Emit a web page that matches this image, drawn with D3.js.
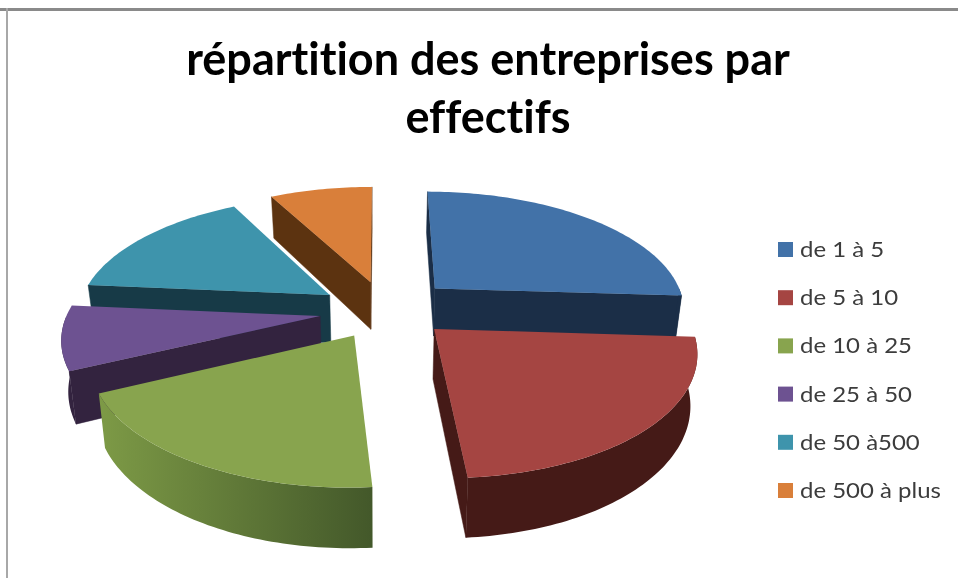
<!DOCTYPE html>
<html><head><meta charset="utf-8">
<script src="https://cdnjs.cloudflare.com/ajax/libs/d3/7.8.5/d3.min.js"></script>
<style>html,body{margin:0;padding:0;background:#fff}svg{display:block;filter:blur(.6px)}text{font-variant-ligatures:none}</style>
</head><body><svg id="c" width="958" height="578"></svg>
<script>
const titleLines = ["répartition des entreprises par", "effectifs"];
const categories = ["de 1 à 5","de 5 à 10","de 10 à 25","de 25 à 50","de 50 à500","de 500 à plus"];
const values = [26, 22.8, 19.2, 8.4, 15.8, 7.8];
const explodeX = [0.22, 0.206, -0.103, -0.24, -0.208, -0.043];
const explodeY = [-0.195, 0.147, 0.199, 0.042, -0.138, -0.252];
const topColors = ["#4272a8","#a54542","#88a44e","#6d5291","#3e94ac","#d97f3a"];
const wallColors = ["#1b2e47","#451a17","#33233f","#33233f","#173a47","#5c3310"];
const drawOrder = [0,5,4,3,2,1];

const W=958,H=578, cx=381, cy=311, A=252, B=119, k=0.16, depth=49, zShrink=0.978;
const svg=d3.select("#c");
const defs=svg.append("defs");

const g1=defs.append("linearGradient").attr("id","greenWall").attr("gradientUnits","userSpaceOnUse")
  .attr("x1",100).attr("x2",373).attr("y1",0).attr("y2",0);
g1.append("stop").attr("offset",0).attr("stop-color","#7d9a46");
g1.append("stop").attr("offset",1).attr("stop-color","#43582a");

svg.append("rect").attr("width",W).attr("height",H).attr("fill","#fff");
svg.append("rect").attr("x",0).attr("y",8).attr("width",W).attr("height",3).attr("fill","#8a8a8a");
svg.append("rect").attr("x",6).attr("y",8).attr("width",2).attr("height",H-8).attr("fill","#a8a8a8");

const xS=d3.scaleLinear().domain([-1,1]).range([cx-A,cx+A]);
const yS=d3.scaleLinear().domain([-1,1]).range([cy-B,cy+B]);
const project=(p,bottom)=>{
  const s=1/(1-k*p[1]);
  const x=xS(p[0]*s), y=yS(p[1]*s);
  return bottom?[cx+(x-cx)*zShrink, y+depth*s]:[x,y];
};
const line=d3.line();
const pie=d3.pie().sort(null).startAngle(0).endAngle(2*Math.PI)(values);
const rim=(o,a)=>[o[0]+Math.sin(a),o[1]-Math.cos(a)];
const arcAngles=(a0,a1)=>{const n=Math.max(2,Math.ceil((a1-a0)/0.02));return d3.range(n+1).map(i=>a0+(a1-a0)*i/n);};

drawOrder.forEach(i=>{
  const d=pie[i];
  const o=[explodeX[i],explodeY[i]];
  const g=svg.append("g");
  const wall=topColors[i]==="#88a44e"?"url(#greenWall)":wallColors[i];
  const addWall=a=>{
    const pts=[o,rim(o,a)];
    g.append("path").attr("fill",wallColors[i]).attr("stroke",wallColors[i]).attr("stroke-width",.5)
     .attr("d",line([project(pts[0]),project(pts[1]),project(pts[1],true),project(pts[0],true)])+"Z");
  };
  const dxS=project(rim(o,d.startAngle))[0]-project(o)[0];
  const dxE=project(rim(o,d.endAngle))[0]-project(o)[0];
  if(dxS<0) addWall(d.startAngle);
  if(dxE>0) addWall(d.endAngle);
  const a0=Math.max(d.startAngle,Math.PI/2), a1=Math.min(d.endAngle,3*Math.PI/2);
  if(a1>a0){
    const as=arcAngles(a0,a1);
    const t=as.map(a=>project(rim(o,a)));
    const b=as.slice().reverse().map(a=>project(rim(o,a),true));
    g.append("path").attr("fill",wall).attr("d",line(t.concat(b))+"Z");
  }
  const topPts=[project(o)].concat(arcAngles(d.startAngle,d.endAngle).map(a=>project(rim(o,a))));
  g.append("path").attr("fill",topColors[i]).attr("d",line(topPts)+"Z");
});

const lgY=d3.scalePoint().domain(categories).range([249,490]);
const lg=svg.selectAll("g.lg").data(categories).join("g").attr("class","lg")
  .attr("transform",c=>`translate(778,${lgY(c)})`);
lg.append("rect").attr("y",-7).attr("width",15).attr("height",15).attr("fill",(c,i)=>topColors[i]);
lg.append("text").attr("transform","translate(22,8) scale(1.09,1)").text(c=>c)
  .attr("font-family","Lato").attr("font-size",22).attr("fill","#3c3c3c");

svg.selectAll("text.t").data(titleLines).join("text").attr("class","t")
  .attr("x",488).attr("y",(d,i)=>[75,133][i]).attr("text-anchor","middle")
  .attr("font-family","Lato").attr("font-weight",700).attr("font-size",45).attr("fill","#000").text(d=>d);
</script></body></html>
